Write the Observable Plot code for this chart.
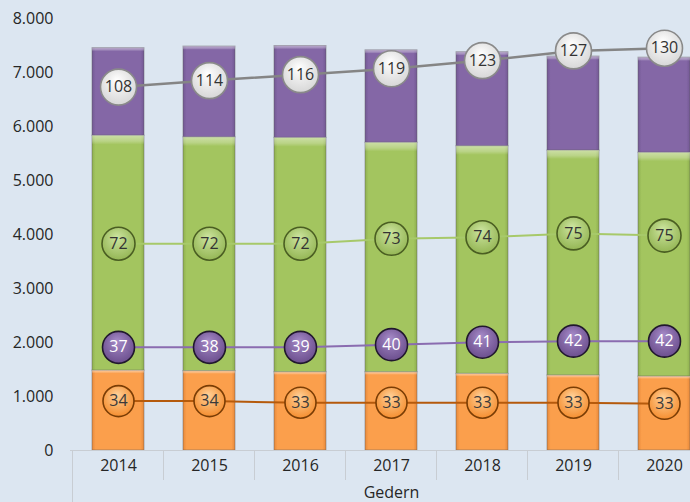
<!DOCTYPE html>
<html><head><meta charset="utf-8">
<script src="https://cdn.jsdelivr.net/npm/d3@7"></script>
<script src="https://cdn.jsdelivr.net/npm/@observablehq/plot@0.6"></script>
<style>
html,body{margin:0;padding:0;background:#dce6f1;overflow:hidden;width:690px;height:502px}
#chart svg{max-width:none !important;}
</style></head><body><div id="chart"></div>
<script>
// ---- data ----
const years = [2014, 2015, 2016, 2017, 2018, 2019, 2020];
const seriesNames = ["Reihe 1", "Reihe 2", "Reihe 3"];
const barOrange = [1480, 1470, 1450, 1450, 1420, 1390, 1370];
const barGreen  = [4350, 4330, 4340, 4250, 4215, 4165, 4145];
const barPurple = [1620, 1680, 1700, 1710, 1740, 1740, 1760];

const whitePos    = [6730, 6850, 6960, 7070, 7220, 7400, 7450];
const whiteLabels = [108, 114, 116, 119, 123, 127, 130];
const greenPos    = [3830, 3830, 3830, 3920, 3950, 4020, 3980];
const greenLabels = [72, 72, 72, 73, 74, 75, 75];
const purplePos    = [1910, 1910, 1910, 1960, 2005, 2025, 2025];
const purpleLabels = [37, 38, 39, 40, 41, 42, 42];
const orangePos    = [915, 915, 885, 885, 885, 885, 865];
const orangeLabels = [34, 34, 33, 33, 33, 33, 33];

const yTicks = [0, 1000, 2000, 3000, 4000, 5000, 6000, 7000, 8000];
const groupLabel = "Gedern";

// ---- build tables ----
const barSets = [barOrange, barGreen, barPurple];
const bars = [];
years.forEach((yr, i) => seriesNames.forEach((s, k) => bars.push({year: yr, series: s, value: barSets[k][i]})));

const toRows = (pos, labels) => years.map((yr, i) => ({year: yr, pos: pos[i], label: labels[i]}));
const lineSets = [
  {rows: toRows(orangePos, orangeLabels), line: "#b55a0c", fill: "url(#dotOrange)", stroke: "#7a3d05", text: "#3a3a3a", r: 15.5, lw: 2},
  {rows: toRows(purplePos, purpleLabels), line: "#8a6cb0", fill: "url(#dotPurple)", stroke: "#21182e", text: "#ffffff", r: 16, lw: 2},
  {rows: toRows(greenPos, greenLabels), line: "#a7c96a", fill: "url(#dotGreen)", stroke: "#4a5e22", text: "#333333", r: 16.5, lw: 2},
  {rows: toRows(whitePos, whiteLabels), line: "#858585", fill: "url(#dotWhite)", stroke: "#8a8a8a", text: "#333333", r: 18, lw: 2.5}
];

const fmt = d => d3.format(",")(d).replace(/,/g, ".");

const marks = [
  Plot.barY(bars, {x: "year", y: "value", fill: "series", stroke: "#5a5a5a", strokeOpacity: 0.45, strokeWidth: 1}),
  Plot.barY(bars, {x: "year", y: "value", fill: "url(#barTopHi)", stroke: "none"}),
  Plot.ruleY([0], {stroke: "#c8cdd3"}),
  Plot.axisY({ticks: yTicks, tickSize: 0, tickPadding: 17, tickFormat: fmt, label: null, fontSize: 16}),
  Plot.axisX({tickSize: 0, tickPadding: 9, tickFormat: d => String(d), label: null, fontSize: 16}),
  Plot.text([groupLabel], {frameAnchor: "bottom", lineAnchor: "middle", dy: 42, fontSize: 16, fill: "#262626"})
];
lineSets.forEach(s => {
  marks.push(Plot.lineY(s.rows, {x: "year", y: "pos", stroke: s.line, strokeWidth: s.lw}));
});
lineSets.forEach(s => {
  marks.push(Plot.dot(s.rows, {x: "year", y: "pos", r: s.r, fill: s.fill, stroke: s.stroke, strokeWidth: 1.6}));
  marks.push(Plot.text(s.rows, {x: "year", y: "pos", text: d => String(d.label), fill: s.text, fontSize: 16}));
});

const plot = Plot.plot({
  width: 712, height: 502,
  marginTop: 18, marginBottom: 52, marginLeft: 70, marginRight: 0,
  style: {background: "#dce6f1", fontFamily: "'Open Sans', sans-serif", fontSize: "16px", color: "#262626", overflow: "visible", maxWidth: "none"},
  x: {domain: years, paddingInner: 0.433, paddingOuter: 0.2165},
  y: {domain: [0, 8000]},
  color: {domain: seriesNames, range: ["url(#barOrange)", "url(#barGreen)", "url(#barPurple)"]},
  marks
});

// gradients
const svgSel = d3.select(plot);
const defs = svgSel.insert("defs", ":first-child");
function hGrad(id, edge, mid) {
  const lg = defs.append("linearGradient").attr("id", id).attr("x1", 0).attr("x2", 1).attr("y1", 0).attr("y2", 0);
  [[0, edge], [0.07, mid], [0.93, mid], [1, edge]].forEach(([o, c]) => lg.append("stop").attr("offset", o).attr("stop-color", c));
}
hGrad("barOrange", "#e8893a", "#fb9f4c");
hGrad("barGreen", "#8fb04f", "#a3c55f");
hGrad("barPurple", "#735994", "#8467a6");
const hiGrad = defs.append("linearGradient").attr("id", "barTopHi").attr("x1", 0).attr("x2", 0).attr("y1", 0).attr("y2", 1);
[[0, 0.45], [0.025, 0.25], [0.04, 0], [1, 0]].forEach(([o, a]) =>
  hiGrad.append("stop").attr("offset", o).attr("stop-color", "#ffffff").attr("stop-opacity", a));
function rGrad(id, inner, outer) {
  const rg = defs.append("radialGradient").attr("id", id).attr("cx", 0.5).attr("cy", 0.42).attr("r", 0.6).attr("fx", 0.45).attr("fy", 0.3);
  [[0, inner], [1, outer]].forEach(([o, c]) => rg.append("stop").attr("offset", o).attr("stop-color", c));
}
rGrad("dotWhite", "#ffffff", "#d6d6d6");
rGrad("dotGreen", "#cde5a0", "#93b553");
rGrad("dotPurple", "#a68bc8", "#6a4d8c");
rGrad("dotOrange", "#ffd199", "#f58d2e");

// category separators derived from the x scale
const sx = plot.scale("x"), sy = plot.scale("y");
const gap = (sx.step - sx.bandwidth) / 2;
const y0 = sy.apply(0);
const sep = svgSel.append("g").attr("stroke", "#c8cdd3").attr("stroke-width", 1);
years.forEach((yr, i) => {
  const xb = sx.apply(yr) - gap;
  sep.append("line").attr("x1", xb).attr("x2", xb).attr("y1", y0).attr("y2", i === 0 ? y0 + 60 : y0 + 30);
});
const lastX = sx.apply(years[years.length - 1]) + sx.bandwidth + gap;
sep.append("line").attr("x1", lastX).attr("x2", lastX).attr("y1", y0).attr("y2", y0 + 60);
plot.insertBefore(sep.node(), plot.querySelector("g[aria-label='bar']"));

svgSel.style("max-width", "none").style("width", "712px").style("height", "502px");
document.getElementById("chart").append(plot);
</script></body></html>
